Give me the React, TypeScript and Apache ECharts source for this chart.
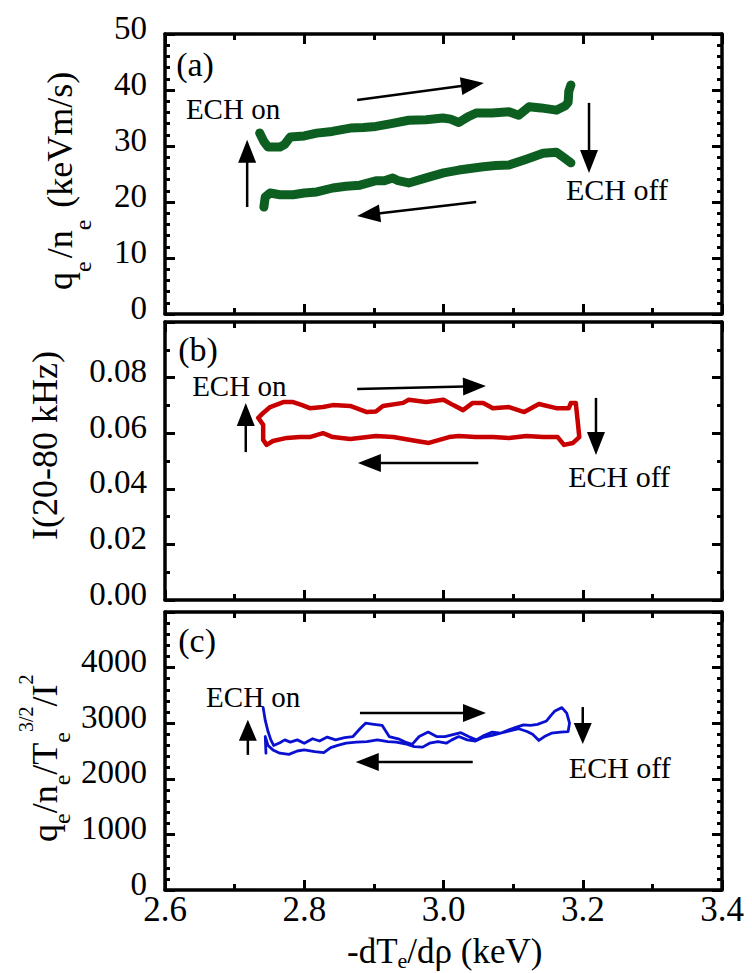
import React, { useEffect, useRef } from 'react';
import * as echarts from 'echarts';

const FONT = 'Liberation Serif';

// ---------- data ----------
const xTickLabels = ['2.6', '2.8', '3.0', '3.2', '3.4'];
const yTickLabelsA = ['0', '10', '20', '30', '40', '50'];
const yTickLabelsB = ['0.00', '0.02', '0.04', '0.06', '0.08', ''];
const yTickLabelsC = ['0', '1000', '2000', '3000', '4000', ''];

// (a) q_e/n_e, ECH on branch (left -> right)
const qnOn: number[][] = [
  [2.736, 32.3], [2.742, 30.8], [2.748, 29.8], [2.765, 29.8], [2.772, 30.3], [2.780, 31.6],
  [2.800, 31.8], [2.818, 32.3], [2.840, 32.6], [2.866, 33.2], [2.885, 33.3], [2.903, 33.5],
  [2.925, 34.0], [2.950, 34.6], [2.975, 34.7], [2.999, 35.0], [3.010, 34.8], [3.022, 34.2],
  [3.035, 35.2], [3.047, 35.9], [3.070, 35.9], [3.094, 36.1], [3.108, 35.5], [3.123, 37.0],
  [3.140, 36.8], [3.162, 36.4], [3.175, 37.2], [3.179, 37.8], [3.180, 39.8], [3.183, 40.9],
];
// (a) q_e/n_e, ECH off branch (right -> left)
const qnOff: number[][] = [
  [3.183, 27.0], [3.172, 28.0], [3.162, 28.9], [3.143, 28.7], [3.118, 27.6], [3.094, 26.6],
  [3.075, 26.5], [3.057, 26.3], [3.022, 25.7], [3.000, 25.2], [2.975, 24.3], [2.950, 23.4],
  [2.935, 23.8], [2.927, 24.3], [2.915, 23.8], [2.903, 23.8], [2.880, 23.0], [2.860, 22.8],
  [2.841, 22.5], [2.818, 21.8], [2.800, 21.6], [2.784, 21.3], [2.765, 21.3], [2.751, 21.6],
  [2.744, 20.9], [2.742, 19.1],
];
// (b) I(20-80 kHz) loop
const fluct: number[][] = [
  [2.734, 0.0655], [2.741, 0.0673], [2.751, 0.0694], [2.770, 0.0712], [2.784, 0.0712], [2.796, 0.0702],
  [2.808, 0.0690], [2.827, 0.0694], [2.841, 0.0701], [2.866, 0.0698], [2.890, 0.0676], [2.903, 0.0678],
  [2.913, 0.0698], [2.942, 0.0709], [2.950, 0.0720], [2.975, 0.0712], [3.000, 0.0720], [3.014, 0.0701],
  [3.028, 0.0683], [3.042, 0.0709], [3.057, 0.0709], [3.071, 0.0690], [3.094, 0.0694], [3.116, 0.0676],
  [3.137, 0.0705], [3.162, 0.0690], [3.180, 0.0690], [3.183, 0.0709], [3.190, 0.0709], [3.193, 0.0637],
  [3.195, 0.0586], [3.186, 0.0565], [3.173, 0.0558], [3.164, 0.0586], [3.143, 0.0586], [3.119, 0.0590],
  [3.094, 0.0583], [3.071, 0.0586], [3.046, 0.0586], [3.022, 0.0590], [3.008, 0.0586], [2.979, 0.0565],
  [2.961, 0.0572], [2.928, 0.0586], [2.903, 0.0590], [2.866, 0.0579], [2.841, 0.0586], [2.827, 0.0600],
  [2.808, 0.0586], [2.794, 0.0586], [2.775, 0.0583], [2.755, 0.0572], [2.746, 0.0558], [2.741, 0.0576],
  [2.741, 0.0630], [2.734, 0.0655],
];
// (c) q_e/n_e/T_e^{3/2}/I^2 loop
const ratio: number[][] = [
  [2.741, 3280], [2.744, 3050], [2.748, 2850], [2.752, 2700], [2.756, 2600], [2.765, 2650],
  [2.772, 2700], [2.780, 2660], [2.790, 2700], [2.800, 2640], [2.812, 2720], [2.822, 2680],
  [2.833, 2750], [2.845, 2700], [2.858, 2740], [2.870, 2760], [2.880, 2900], [2.888, 3000],
  [2.900, 2980], [2.912, 2960], [2.922, 2760], [2.935, 2720], [2.945, 2660], [2.955, 2620],
  [2.965, 2760], [2.978, 2840], [2.990, 2760], [3.002, 2760], [3.015, 2800], [3.025, 2830],
  [3.036, 2760], [3.047, 2700], [3.058, 2780], [3.070, 2840], [3.082, 2820], [3.094, 2880],
  [3.105, 2930], [3.115, 2970], [3.125, 2960], [3.135, 2980], [3.148, 3040], [3.155, 3150],
  [3.160, 3220], [3.170, 3280], [3.177, 3180], [3.181, 3000], [3.179, 2850], [3.168, 2840],
  [3.155, 2820], [3.145, 2760], [3.137, 2690], [3.128, 2800], [3.120, 2850], [3.108, 2900],
  [3.095, 2860], [3.082, 2820], [3.070, 2780], [3.058, 2750], [3.046, 2680], [3.034, 2700],
  [3.022, 2760], [3.012, 2700], [3.004, 2640], [2.992, 2670], [2.980, 2640], [2.970, 2570],
  [2.958, 2580], [2.945, 2630], [2.932, 2660], [2.920, 2670], [2.905, 2700], [2.890, 2670],
  [2.875, 2660], [2.860, 2640], [2.848, 2600], [2.838, 2560], [2.828, 2470], [2.815, 2490],
  [2.800, 2520], [2.790, 2500], [2.778, 2440], [2.765, 2460], [2.755, 2520], [2.748, 2600],
  [2.744, 2760], [2.745, 2460],
];

// annotations (data coordinates of each panel)
const arrowsA = [
  [[2.718, 19.1], [2.718, 31.1]], [[2.876, 38.2], [3.058, 41.25]],
  [[3.209, 37.7], [3.209, 25.2]], [[3.047, 20.0], [2.876, 17.5]],
];
const arrowsB = [
  [[2.716, 0.0532], [2.716, 0.0709]], [[2.876, 0.0759], [3.061, 0.0770]],
  [[3.219, 0.0727], [3.219, 0.0522]], [[3.050, 0.0493], [2.877, 0.0493]],
];
const arrowsC = [
  [[2.719, 2430], [2.719, 3060]], [[2.880, 3185], [3.061, 3185]],
  [[3.200, 3290], [3.200, 2625]], [[3.042, 2300], [2.874, 2300]],
];
const labelsA = [{ t: '(a)', p: [2.616, 44.5], s: 34 }, { t: 'ECH on', p: [2.630, 36.6], s: 29 }, { t: 'ECH off', p: [3.176, 22.3], s: 30 }];
const labelsB = [{ t: '(b)', p: [2.619, 0.090], s: 34 }, { t: 'ECH on', p: [2.639, 0.077], s: 29 }, { t: 'ECH off', p: [3.179, 0.0446], s: 30 }];
const labelsC = [{ t: '(c)', p: [2.619, 4482], s: 34 }, { t: 'ECH on', p: [2.659, 3474], s: 29 }, { t: 'ECH off', p: [3.180, 2196], s: 30 }];

// ---------- layout ----------
const GRIDS = [
  { left: 165, top: 34, width: 557, height: 280 },
  { left: 165, top: 322, width: 557, height: 278 },
  { left: 165, top: 612, width: 557, height: 278 },
];
const Y_RANGES = [
  { max: 50, interval: 10, minor: 5, labels: yTickLabelsA },
  { max: 0.1, interval: 0.02, minor: 2, labels: yTickLabelsB },
  { max: 5000, interval: 1000, minor: 5, labels: yTickLabelsC },
];

const AXIS_LINE = { show: true, onZero: false, lineStyle: { color: '#000', width: 3.5 } };

function xAxes() {
  const list: any[] = [];
  GRIDS.forEach((_, g) => {
    ['bottom', 'top'].forEach((pos) => {
      const showLabel = g === 2 && pos === 'bottom';
      list.push({
        type: 'value', gridIndex: g, position: pos, min: 2.6, max: 3.4, interval: 0.2,
        axisLine: AXIS_LINE,
        axisTick: { show: true, inside: true, length: 10, lineStyle: { color: '#000', width: 3 } },
        minorTick: { show: true, splitNumber: 2, length: 6, lineStyle: { color: '#000', width: 3 } },
        splitLine: { show: false }, minorSplitLine: { show: false },
        axisLabel: {
          show: showLabel, color: '#000', fontFamily: FONT, fontSize: 35, margin: 2,
          formatter: (_v: number, i: number) => xTickLabels[i] ?? '',
        },
      });
    });
  });
  return list;
}

function yAxes() {
  const list: any[] = [];
  GRIDS.forEach((_, g) => {
    const r = Y_RANGES[g];
    ['left', 'right'].forEach((pos) => {
      list.push({
        type: 'value', gridIndex: g, position: pos, min: 0, max: r.max, interval: r.interval,
        axisLine: AXIS_LINE,
        axisTick: { show: true, inside: true, length: 10, lineStyle: { color: '#000', width: 3 } },
        minorTick: { show: true, splitNumber: r.minor, length: 5, lineStyle: { color: '#000', width: 3 } },
        splitLine: { show: false }, minorSplitLine: { show: false },
        axisLabel: {
          show: pos === 'left', color: '#000', fontFamily: FONT, fontSize: 33, margin: 18,
          verticalAlign: 'bottom', lineHeight: 13,
          formatter: (_v: number, i: number) => r.labels[i] ?? '',
        },
      });
    });
  });
  return list;
}

function lineSeries(data: number[][], g: number, color: string, width: number) {
  return {
    type: 'line', xAxisIndex: 2 * g, yAxisIndex: 2 * g, data, showSymbol: false, symbol: 'none',
    silent: true, clip: true,
    lineStyle: { color, width, cap: 'round', join: 'round' },
  };
}

// Times / Liberation Serif advance widths (em)
const ADV: Record<string, number> = {
  q: 0.5, e: 0.444, n: 0.5, '/': 0.278, ' ': 0.25, '(': 0.333, ')': 0.333, k: 0.5, V: 0.722, m: 0.778,
  s: 0.389, T: 0.611, I: 0.333, '3': 0.5, '2': 0.5, '-': 0.333, d: 0.5, 'ρ': 0.52, '0': 0.5, '8': 0.5,
  H: 0.722, z: 0.444,
};
function measure(text: string, size: number) {
  let w = 0;
  for (const ch of text) w += (ADV[ch] ?? 0.5) * size;
  return w;
}

type Piece = { t: string; s: number; dy?: number; gap?: number };
// origin of group = start of the main baseline; texts are top-aligned (box top = baseline - 0.8375 em)
function titleGroup(pieces: Piece[], x: number, y: number, rotated: boolean) {
  let cx = 0;
  const children: any[] = [];
  pieces.forEach((p) => {
    cx += p.gap || 0;
    children.push({
      type: 'text', x: cx, y: (p.dy || 0) - 0.8375 * p.s,
      style: { text: p.t, fontFamily: FONT, fontSize: p.s, fill: '#000' },
    });
    cx += measure(p.t, p.s);
  });
  return { type: 'group', x, y, rotation: rotated ? Math.PI / 2 : 0, children, silent: true };
}

function arrowEls(p1: number[], p2: number[], headLen = 22, headW = 17) {
  const dx = p2[0] - p1[0];
  const dy = p2[1] - p1[1];
  const L = Math.hypot(dx, dy) || 1;
  const ux = dx / L, uy = dy / L;
  const bx = p2[0] - ux * headLen, by = p2[1] - uy * headLen;
  const nx = -uy, ny = ux;
  return [
    { type: 'line', silent: true, shape: { x1: p1[0], y1: p1[1], x2: bx + ux * 2, y2: by + uy * 2 }, style: { stroke: '#000', lineWidth: 2.5 } },
    {
      type: 'polygon', silent: true,
      shape: { points: [[p2[0], p2[1]], [bx + (nx * headW) / 2, by + (ny * headW) / 2], [bx - (nx * headW) / 2, by - (ny * headW) / 2]] },
      style: { fill: '#000' },
    },
  ];
}

export default function App() {
  const ref = useRef<HTMLDivElement>(null);
  useEffect(() => {
    if (!ref.current) return;
    const chart = echarts.init(ref.current, null, { renderer: 'svg', width: 752, height: 973 });
    chart.setOption({
      animation: false,
      grid: GRIDS.map((g) => ({ ...g, outerBoundsMode: 'none' })),
      xAxis: xAxes(),
      yAxis: yAxes(),
      series: [
        lineSeries(qnOn, 0, '#0c5f20', 9),
        lineSeries(qnOff, 0, '#0c5f20', 9),
        lineSeries(fluct, 1, '#c80000', 4.5),
        lineSeries(ratio, 2, '#0a10d0', 2.8),
      ],
    });

    const elements: any[] = [];
    const panels = [
      { arrows: arrowsA, labels: labelsA },
      { arrows: arrowsB, labels: labelsB },
      { arrows: arrowsC, labels: labelsC },
    ];
    panels.forEach((panel, g) => {
      const finder = { xAxisIndex: 2 * g, yAxisIndex: 2 * g };
      const px = (p: number[]) => chart.convertToPixel(finder as any, p) as number[];
      panel.arrows.forEach((a) => {
        const p1 = px(a[0]);
        const p2 = px(a[1]);
        const short = Math.hypot(p2[0] - p1[0], p2[1] - p1[1]) < 45;
        elements.push(...arrowEls(p1, p2, short ? 21 : 23, 18));
      });
      panel.labels.forEach((l) => {
        const p = px(l.p);
        elements.push({
          type: 'text', x: p[0], y: p[1] - l.s / 2, silent: true,
          style: { text: l.t, fontFamily: FONT, fontSize: l.s, fill: '#000' },
        });
      });
    });

    // axis titles
    elements.push(titleGroup([
      { t: 'q', s: 36 }, { t: 'e', s: 24, dy: 19 }, { t: '/n', s: 36, gap: 3 }, { t: 'e', s: 24, dy: 19 },
      { t: ' (keVm/s)', s: 36, gap: 3 },
    ], 72, 290, true));
    elements.push(titleGroup([{ t: 'I(20-80 kHz)', s: 36 }], 57, 540, true));
    elements.push(titleGroup([
      { t: 'q', s: 36 }, { t: 'e', s: 24, dy: 13 }, { t: '/n', s: 36 }, { t: 'e', s: 24, dy: 13 },
      { t: '/T', s: 36 }, { t: 'e', s: 24, dy: 13 }, { t: '3/2', s: 20, dy: -24 }, { t: '/I', s: 36 },
      { t: '2', s: 20, dy: -24 },
    ], 57, 842, true));
    elements.push(titleGroup([
      { t: '-dT', s: 35 }, { t: 'e', s: 22, dy: 5 }, { t: '/dρ (keV)', s: 35 },
    ], 347, 963, false));

    chart.setOption({ graphic: { elements } });
    return () => chart.dispose();
  }, []);
  return <div ref={ref} style={{ position: 'absolute', left: 0, top: 0, width: 752, height: 973 }} />;
}
